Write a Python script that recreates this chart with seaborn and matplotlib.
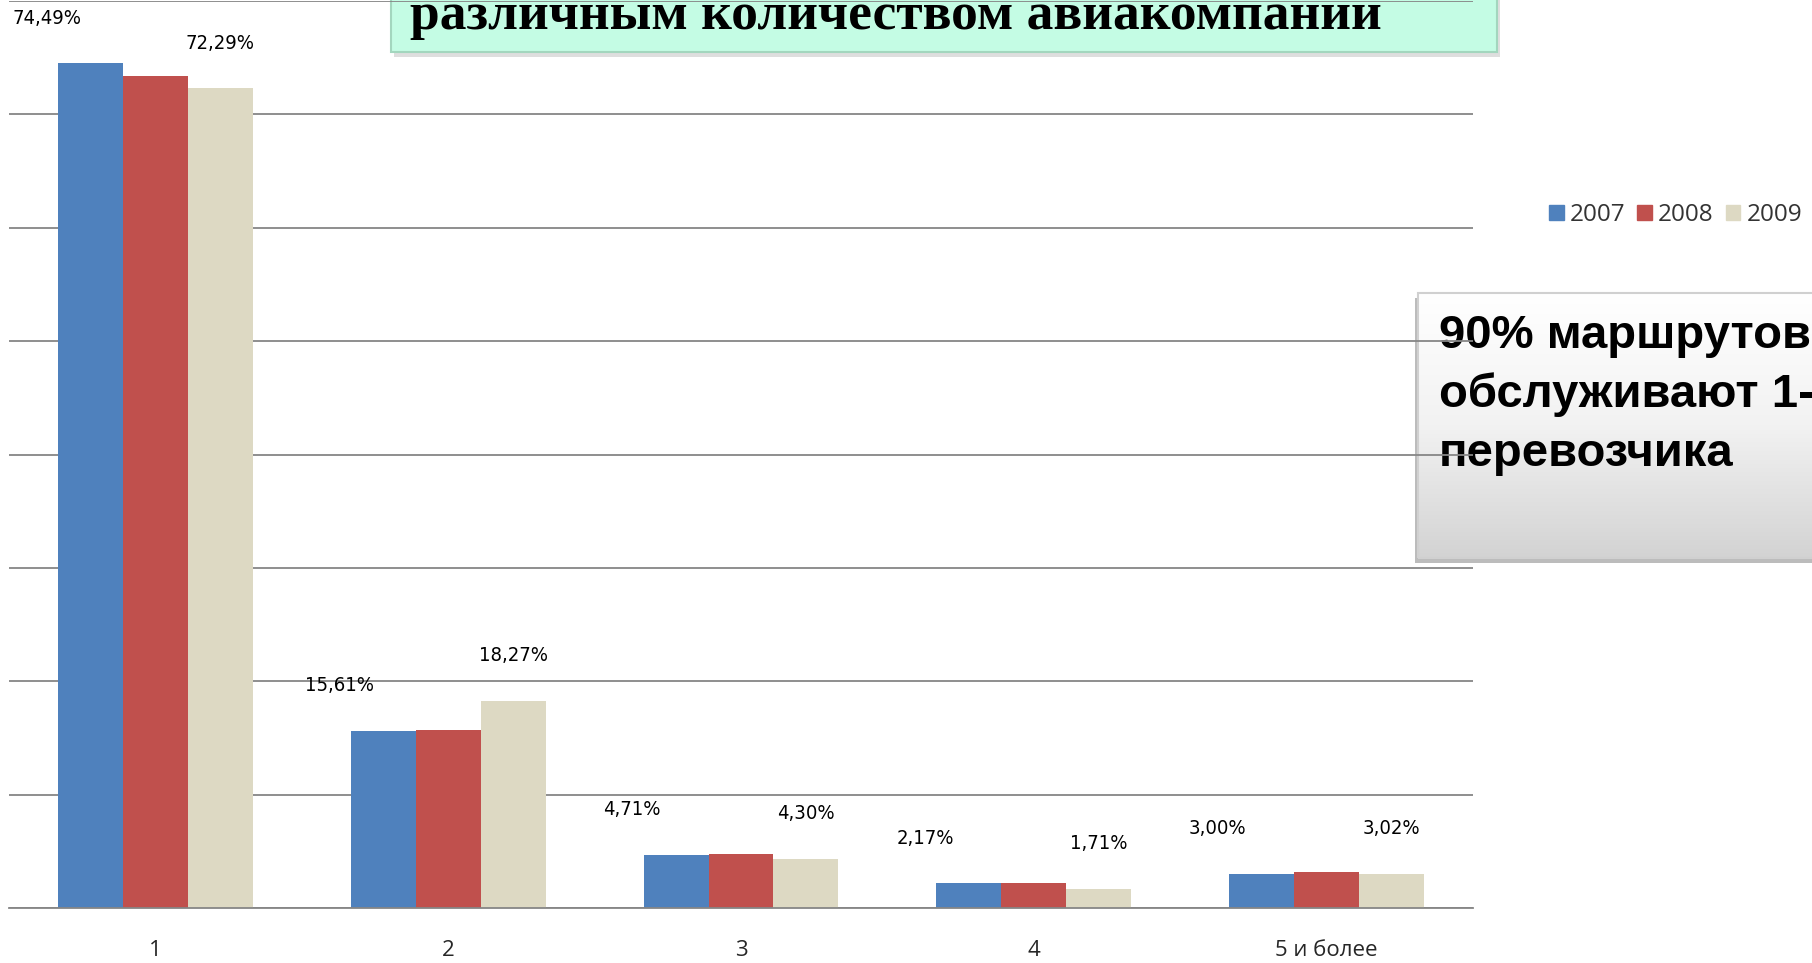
import matplotlib
matplotlib.use("Agg")
import matplotlib.pyplot as plt
import matplotlib.patches as mpatches
from matplotlib.colors import LinearSegmentedColormap
import numpy as np
import pandas as pd
import seaborn as sns

# Data (share of routes, %)
categories = ["1", "2", "3", "4", "5 и более"]
years = ["2007", "2008", "2009"]
share_2007 = [74.49, 15.61, 4.71, 2.17, 3.00]
share_2008 = [73.4, 15.7, 4.8, 2.2, 3.2]
share_2009 = [72.29, 18.27, 4.30, 1.71, 3.02]
colors = ["#4F81BD", "#C0504D", "#DDD9C3"]

title_text = "различным количеством авиакомпаний"
note_text = "90% маршрутов\nобслуживают 1-2\nперевозчика"

W, H = 1812, 963


def box(x0, y0, x1, y1):
    """pixel box (top-left origin) -> figure fraction [left, bottom, width, height]"""
    return [x0 / W, 1 - y1 / H, (x1 - x0) / W, (y1 - y0) / H]


df = pd.DataFrame({
    "category": categories * 3,
    "year": np.repeat(years, len(categories)),
    "share": share_2007 + share_2008 + share_2009,
})

sns.set_style("white")
fig = plt.figure(figsize=(W / 100, H / 100), dpi=100)

# title box (cut off at the top of the slide)
l, b, w, h = box(391, -30, 1497, 52)
fig.patches.append(mpatches.Rectangle((l + 3 / W, b - 5 / H), w, h, transform=fig.transFigure,
                                      facecolor="#c8c8c8", edgecolor="none", alpha=0.6, zorder=0.3))
fig.patches.append(mpatches.Rectangle((l, b), w, h, transform=fig.transFigure,
                                      facecolor="#C4FCE4", edgecolor="#A3D6BE", lw=1.5, zorder=0.4))
fig.text(410 / W, 1 - 29 / H, title_text, fontsize=38.5, fontweight="bold", color="black",
         family="Liberation Serif", va="baseline", ha="left", zorder=0.5)

# note box with grey gradient
l, b, w, h = box(1418, 293, 1840, 558)
fig.patches.append(mpatches.Rectangle((l - 3 / W, b - 5 / H), w, h, transform=fig.transFigure,
                                      facecolor="#a0a0a0", edgecolor="none", alpha=0.7, zorder=0.3))
grad_ax = fig.add_axes([l, b, w, h], zorder=0.4)
grad = np.linspace(0, 1, 256).reshape(-1, 1)
cmap = LinearSegmentedColormap.from_list("g", ["#ffffff", "#f2f2f2", "#d3d3d3"])
grad_ax.imshow(grad, aspect="auto", cmap=cmap, extent=[0, 1, 0, 1])
grad_ax.set_axis_off()
fig.patches.append(mpatches.Rectangle((l, b), w, h, transform=fig.transFigure,
                                      facecolor="none", edgecolor="#d0d0d0", lw=1.5, zorder=0.45))
fig.text(1439 / W, 1 - 314 / H, note_text, fontsize=34, fontweight="bold", color="black",
         family="Liberation Sans", va="top", ha="left", linespacing=1.42, zorder=0.5)

# main chart
ax = fig.add_axes(box(9, 1, 1473, 908))
ax.set_zorder(2)
ax.patch.set_alpha(0)

group_width = 0.665
sns.barplot(data=df, x="category", y="share", hue="year", order=categories, hue_order=years,
            palette=colors, saturation=1, width=group_width, edgecolor="none",
            legend=False, ax=ax)

ax.set_xlim(-0.5, len(categories) - 0.5)
ax.set_ylim(0, 80)
ax.set_yticks(np.arange(0, 81, 10))
ax.yaxis.grid(True, color="#868686", lw=1.3)
ax.set_axisbelow(True)
ax.tick_params(axis="y", left=False, labelleft=False)
for side in ["left", "right", "top"]:
    ax.spines[side].set_visible(False)
ax.spines["bottom"].set_color("#868686")
ax.spines["bottom"].set_linewidth(1.3)

ax.set_xticks(range(len(categories)))
ax.set_xticklabels(categories, fontsize=16, family="Open Sans", color="#262626")
ax.tick_params(axis="x", which="major", length=0, pad=23)
ax.set_xticks(np.arange(-0.5, len(categories), 1), minor=True)
ax.tick_params(axis="x", which="minor", length=9, width=1.3, color="#868686")
ax.set_xlabel("")
ax.set_ylabel("")


def fmt(v):
    return f"{v:.2f}%".replace(".", ",")


bar_step = group_width / 3
label_font = dict(fontsize=14.5, family="DejaVu Sans", stretch="condensed",
                  ha="center", va="center", color="black")
for i, v in enumerate(share_2007):
    ax.text(i - bar_step - 0.15, v + 4.0, fmt(v), **label_font)
for i, v in enumerate(share_2009):
    ax.text(i + bar_step, v + 4.0, fmt(v), **label_font)

# legend
handles = [mpatches.Patch(color=c, label=y) for c, y in zip(colors, years)]
fig.legend(handles=handles, loc="center left", bbox_to_anchor=(1549 / W, 1 - 215 / H),
           ncol=3, frameon=False, prop={"family": "Open Sans", "size": 17.5},
           handlelength=0.6, handleheight=0.6, handletextpad=0.25, columnspacing=0.5,
           borderpad=0, borderaxespad=0, labelcolor="#333333")

fig.savefig("out.png", dpi=100)
